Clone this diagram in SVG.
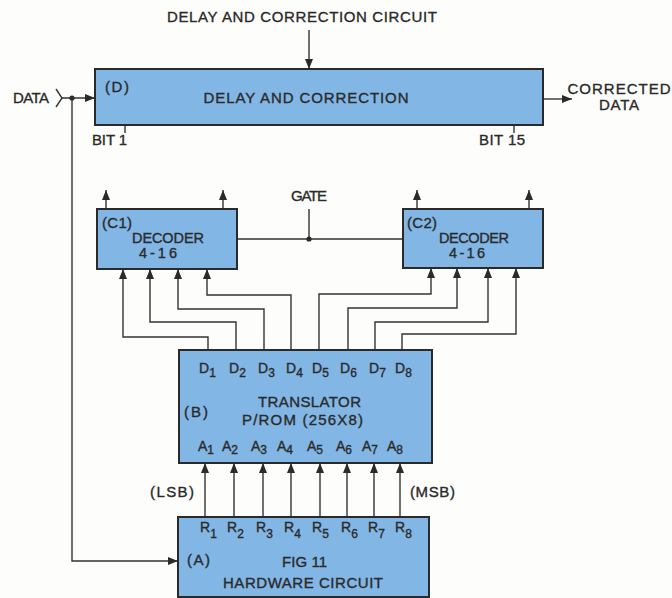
<svg xmlns="http://www.w3.org/2000/svg" width="672" height="598" viewBox="0 0 672 598">
<defs>
<style>
.box{fill:#82b6e5;stroke:#2a2a2a;stroke-width:2}
.wire{fill:none;stroke:#333;stroke-width:1.4}
.arr{marker-end:url(#ah)}
text{font-family:"Liberation Sans",Arial,sans-serif;fill:#2a2a2a;stroke:#2a2a2a;stroke-width:0.35;font-size:15px}
.dec{font-size:14.5px}
.lbl{font-size:14px}
.sub{font-size:12px}
</style>
<marker id="ah" viewBox="0 0 10 8" refX="10" refY="4" markerWidth="10" markerHeight="8" markerUnits="userSpaceOnUse" orient="auto">
<path d="M0,0 L10,4 L0,8 z" fill="#2a2a2a"/>
</marker>
</defs>
<rect width="672" height="598" fill="#fdfdfb"/>

<g id="connectors">
<path class="wire arr" d="M309,30 V69"/>
<path class="wire" d="M56,89 L62,98 L56,107"/>
<path class="wire arr" d="M62,98 H95"/>
<circle cx="72" cy="98" r="2.6" fill="#2a2a2a"/>
<path class="wire arr" d="M72,98 V561 H178"/>
<path class="wire arr" d="M543,99 H572"/>
<path class="wire" d="M125,125 V133 M514,125 V133"/>
<path class="wire arr" d="M106,209 V190"/>
<path class="wire arr" d="M223,209 V190"/>
<path class="wire arr" d="M417,209 V190"/>
<path class="wire arr" d="M529,209 V190"/>
<path class="wire" d="M237,239 H403 M309,209 V239"/>
<circle cx="309" cy="239" r="2.6" fill="#2a2a2a"/>
<path class="wire arr" d="M208,350 V337 H123 V269"/>
<path class="wire arr" d="M236,350 V322 H150 V269"/>
<path class="wire arr" d="M264,350 V309 H178 V269"/>
<path class="wire arr" d="M291,350 V295 H207 V269"/>
<path class="wire arr" d="M319,350 V294 H431 V268"/>
<path class="wire arr" d="M348,350 V308 H457 V268"/>
<path class="wire arr" d="M375,350 V322 H488 V268"/>
<path class="wire arr" d="M402,350 V334 H516 V268"/>
<path class="wire arr" d="M205,517 V463"/>
<path class="wire arr" d="M234,517 V463"/>
<path class="wire arr" d="M263,517 V463"/>
<path class="wire arr" d="M291,517 V463"/>
<path class="wire arr" d="M320,517 V463"/>
<path class="wire arr" d="M347,517 V463"/>
<path class="wire arr" d="M374,517 V463"/>
<path class="wire arr" d="M400,517 V463"/>
</g>

<g id="labels">
<text x="302" y="22" text-anchor="middle" textLength="270">DELAY AND CORRECTION CIRCUIT</text>
<text x="13" y="103" textLength="36">DATA</text>
<text x="619" y="94" text-anchor="middle" textLength="103">CORRECTED</text>
<text x="619" y="110" text-anchor="middle" textLength="40">DATA</text>
<text x="92" y="145" textLength="35">BIT 1</text>
<text x="479" y="145" textLength="46">BIT 15</text>
<text x="309" y="201" text-anchor="middle" textLength="36">GATE</text>
<text x="150" y="497" textLength="44">(LSB)</text>
<text x="410" y="497" textLength="45">(MSB)</text>
</g>

<g id="nodeD">
<rect class="box" x="95" y="69" width="448" height="56"/>
<text x="105" y="92" textLength="24">(D)</text>
<text x="306" y="103" text-anchor="middle" textLength="205">DELAY AND CORRECTION</text>
</g>

<g id="nodeC1">
<rect class="box" x="97" y="209" width="140" height="60"/>
<text x="102" y="228" textLength="30">(C1)</text>
<text class="dec" x="132" y="243" textLength="72">DECODER</text>
<text class="dec" x="139" y="258" textLength="38">4-16</text>
</g>

<g id="nodeC2">
<rect class="box" x="403" y="209" width="140" height="59"/>
<text x="407" y="228" textLength="30">(C2)</text>
<text class="dec" x="439" y="243" textLength="70">DECODER</text>
<text class="dec" x="449" y="258" textLength="36">4-16</text>
</g>

<g id="nodeB">
<rect class="box" x="179" y="350" width="253" height="113"/>
<text class="lbl" x="199" y="373">D<tspan class="sub" dy="4">1</tspan></text>
<text class="lbl" x="229" y="373">D<tspan class="sub" dy="4">2</tspan></text>
<text class="lbl" x="258" y="373">D<tspan class="sub" dy="4">3</tspan></text>
<text class="lbl" x="286" y="373">D<tspan class="sub" dy="4">4</tspan></text>
<text class="lbl" x="312" y="373">D<tspan class="sub" dy="4">5</tspan></text>
<text class="lbl" x="340" y="373">D<tspan class="sub" dy="4">6</tspan></text>
<text class="lbl" x="369" y="373">D<tspan class="sub" dy="4">7</tspan></text>
<text class="lbl" x="395" y="373">D<tspan class="sub" dy="4">8</tspan></text>
<text x="184" y="417" textLength="24">(B)</text>
<text x="258" y="407" textLength="103">TRANSLATOR</text>
<text x="242" y="425" textLength="121">P/ROM (256X8)</text>
<text class="lbl" x="198" y="451">A<tspan class="sub" dy="3">1</tspan></text>
<text class="lbl" x="222" y="451">A<tspan class="sub" dy="3">2</tspan></text>
<text class="lbl" x="251" y="451">A<tspan class="sub" dy="3">3</tspan></text>
<text class="lbl" x="277" y="451">A<tspan class="sub" dy="3">4</tspan></text>
<text class="lbl" x="307" y="451">A<tspan class="sub" dy="3">5</tspan></text>
<text class="lbl" x="336" y="451">A<tspan class="sub" dy="3">6</tspan></text>
<text class="lbl" x="362" y="451">A<tspan class="sub" dy="3">7</tspan></text>
<text class="lbl" x="387" y="451">A<tspan class="sub" dy="3">8</tspan></text>
</g>

<g id="nodeA">
<rect class="box" x="178" y="517" width="251" height="80"/>
<text class="lbl" x="200" y="532">R<tspan class="sub" dy="6">1</tspan></text>
<text class="lbl" x="227" y="532">R<tspan class="sub" dy="6">2</tspan></text>
<text class="lbl" x="256" y="532">R<tspan class="sub" dy="6">3</tspan></text>
<text class="lbl" x="284" y="532">R<tspan class="sub" dy="6">4</tspan></text>
<text class="lbl" x="312" y="532">R<tspan class="sub" dy="6">5</tspan></text>
<text class="lbl" x="341" y="532">R<tspan class="sub" dy="6">6</tspan></text>
<text class="lbl" x="368" y="532">R<tspan class="sub" dy="6">7</tspan></text>
<text class="lbl" x="395" y="532">R<tspan class="sub" dy="6">8</tspan></text>
<text x="187" y="565" textLength="23">(A)</text>
<text x="282" y="567" textLength="45">FIG 11</text>
<text x="223" y="588" textLength="160">HARDWARE CIRCUIT</text>
</g>
</svg>
